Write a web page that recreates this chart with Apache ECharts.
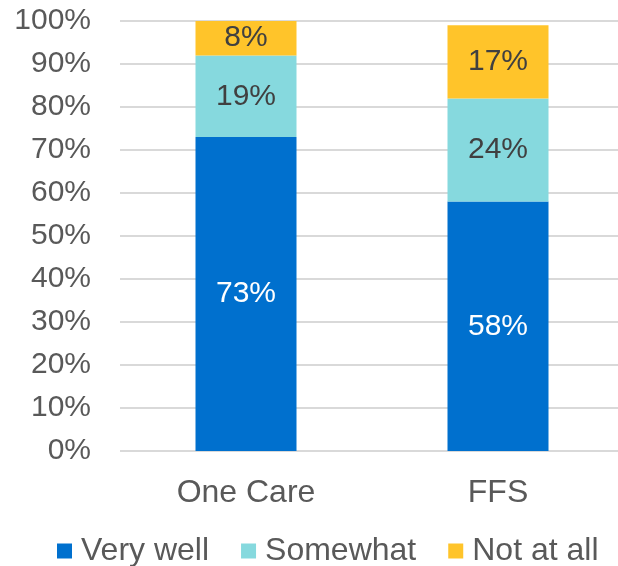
<!DOCTYPE html>
<html>
<head>
<meta charset="utf-8">
<script src="https://cdn.jsdelivr.net/npm/echarts@6/dist/echarts.min.js"></script>
<style>
  html, body { margin: 0; padding: 0; background: #fff; }
  #chart { width: 618px; height: 566px; }
</style>
</head>
<body>
<div id="chart"></div>
<script>
// Plans compared
const categories = ['One Care', 'FFS'];

// Share of respondents per answer (percent)
const veryWell = [73, 58];
const somewhat = [19, 24];
const notAtAll = [8, 17];

const seriesNames = ['Very well', 'Somewhat', 'Not at all'];
const seriesColors = ['#0070CE', '#86D9DE', '#FFC42A'];
const labelColors = ['#FFFFFF', '#404040', '#404040'];

const FONT = '"Liberation Sans", Arial, sans-serif';

const chart = echarts.init(document.getElementById('chart'), null, { renderer: 'canvas' });

function makeSeries(name, data, idx) {
  return {
    name: name,
    type: 'bar',
    stack: 'total',
    data: data,
    barWidth: 101,
    itemStyle: { color: seriesColors[idx] },
    label: {
      show: true,
      position: 'inside',
      formatter: '{c}%',
      color: labelColors[idx],
      fontFamily: FONT,
      fontSize: 30
    },
    emphasis: { disabled: true }
  };
}

chart.setOption({
  animation: false,
  backgroundColor: '#ffffff',
  grid: {
    left: 120, top: 21, width: 504, height: 430,
    containLabel: false,
    outerBoundsMode: 'none'
  },
  legend: {
    left: 57,
    top: 535,
    padding: 0,
    itemWidth: 15,
    itemHeight: 15,
    itemGap: 32,
    icon: 'rect',
    data: seriesNames,
    textStyle: {
      color: '#595959',
      fontFamily: FONT,
      fontSize: 32,
      padding: [0, 0, 0, 4]
    }
  },
  xAxis: {
    type: 'category',
    data: categories,
    axisLine: { show: false },
    axisTick: { show: false },
    axisLabel: {
      margin: 26,
      color: '#595959',
      fontFamily: FONT,
      fontSize: 32
    }
  },
  yAxis: {
    type: 'value',
    min: 0,
    max: 100,
    interval: 10,
    axisLine: { show: false },
    axisTick: { show: false },
    splitLine: { lineStyle: { color: '#D9D9D9', width: 2 } },
    axisLabel: {
      margin: 29,
      formatter: '{value}%',
      color: '#595959',
      fontFamily: FONT,
      fontSize: 30,
      padding: [3, 0, 0, 0]
    }
  },
  series: [
    makeSeries(seriesNames[0], veryWell, 0),
    makeSeries(seriesNames[1], somewhat, 1),
    makeSeries(seriesNames[2], notAtAll, 2)
  ]
});
</script>
</body>
</html>
